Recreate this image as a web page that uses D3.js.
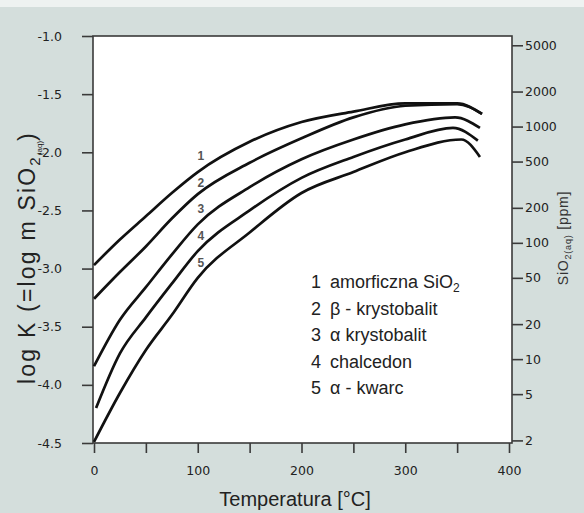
<!DOCTYPE html>
<html>
<head>
<meta charset="utf-8">
<script src="https://cdn.jsdelivr.net/npm/d3@7"></script>
<style>
    body { margin: 0; background: #d4dedc; }
    text { font-family: Arial, "Liberation Sans", sans-serif; }
    .tick text { font-family: "DejaVu Sans", sans-serif; font-size: 12.5px; fill: #222; }
    .tick line { stroke: #3a3a3a; stroke-width: 1.6; }
</style>
</head>
<body>
<script>
// temperatura [°C] i log K, krzywe 1..5
const tAmorf = [0, 25, 50, 75, 100, 150, 200, 250, 300, 350, 374];
const kAmorf = [-2.97, -2.75, -2.55, -2.35, -2.17, -1.91, -1.74, -1.65, -1.58, -1.58, -1.67];

const tBetaKryst = [0, 25, 50, 75, 100, 150, 200, 250, 300, 350, 374];
const kBetaKryst = [-3.26, -3.03, -2.81, -2.57, -2.36, -2.09, -1.88, -1.70, -1.60, -1.585, -1.67];

const tAlfaKryst = [0, 25, 50, 75, 100, 150, 200, 250, 300, 348, 372];
const kAlfaKryst = [-3.84, -3.44, -3.16, -2.88, -2.62, -2.30, -2.06, -1.89, -1.76, -1.70, -1.79];

const tChalcedon = [2, 25, 50, 75, 100, 150, 200, 250, 300, 346, 370];
const kChalcedon = [-4.20, -3.73, -3.42, -3.13, -2.85, -2.50, -2.22, -2.04, -1.89, -1.79, -1.90];

const tKwarc = [0, 25, 50, 75, 100, 150, 200, 250, 300, 354, 372];
const kKwarc = [-4.49, -4.07, -3.70, -3.40, -3.08, -2.69, -2.35, -2.17, -2.00, -1.89, -2.04];

const legendLabels = ['amorficzna SiO', 'β - krystobalit', 'α krystobalit', 'chalcedon', 'α - kwarc'];
// numery przy krzywych (T, log K)
const numLabelT = 103;
const numLabelK = [-2.03, -2.26, -2.49, -2.72, -2.95];

const xTicks = [0, 50, 100, 150, 200, 250, 300, 350, 400];
const yTicks = [-1.0, -1.5, -2.0, -2.5, -3.0, -3.5, -4.0, -4.5];
const ppmTicks = [5000, 2000, 1000, 500, 200, 100, 50, 20, 10, 5, 2];

const W = 584, H = 513;
const box = {left: 93, right: 512, top: 36, bottom: 443};

const svg = d3.select('body').append('svg')
    .attr('width', W).attr('height', H);

svg.append('rect').attr('width', W).attr('height', H).attr('fill', '#d4dedc');
svg.append('rect').attr('width', W).attr('height', 7).attr('fill', '#eef2f1');

const x = d3.scaleLinear().domain([0, 400]).range([94, 509]);
const y = d3.scaleLinear().domain([-4.5, -1]).range([box.bottom, box.top]);
// SiO2 ppm = m * 60.08 * 1000
const ppm = d3.scaleLog()
    .domain([60080 * Math.pow(10, -4.5), 60080 * Math.pow(10, -1)])
    .range([box.bottom, box.top]);

svg.append('rect')
    .attr('x', box.left).attr('y', box.top)
    .attr('width', box.right - box.left).attr('height', box.bottom - box.top)
    .attr('fill', '#fff').attr('stroke', '#3a3a3a').attr('stroke-width', 1.6);

const fmt = d => d3.format('.1f')(d).replace('−', '-');

const gx = svg.append('g')
    .attr('transform', `translate(0,${box.bottom})`)
    .call(d3.axisBottom(x).tickValues(xTicks).tickSize(10).tickPadding(13)
        .tickFormat(d => d % 100 === 0 ? d : ''));
gx.select('.domain').remove();

const gy = svg.append('g')
    .attr('transform', `translate(${box.left},0)`)
    .call(d3.axisLeft(y).tickValues(yTicks).tickSize(11).tickPadding(20).tickFormat(fmt));
gy.select('.domain').remove();

const gr = svg.append('g')
    .attr('transform', `translate(${box.right},0)`)
    .call(d3.axisRight(ppm).tickValues(ppmTicks).tickSize(11).tickPadding(2)
        .tickFormat(d3.format('d')));
gr.select('.domain').remove();

// krzywe
const series = [
    d3.zip(tAmorf, kAmorf),
    d3.zip(tBetaKryst, kBetaKryst),
    d3.zip(tAlfaKryst, kAlfaKryst),
    d3.zip(tChalcedon, kChalcedon),
    d3.zip(tKwarc, kKwarc),
];

const line = d3.line()
    .x(d => x(d[0]))
    .y(d => y(d[1]))
    .curve(d3.curveMonotoneX);

svg.selectAll('path.curve')
    .data(series)
    .enter()
    .append('path')
    .attr('class', 'curve')
    .attr('d', line)
    .attr('fill', 'none')
    .attr('stroke', '#111')
    .attr('stroke-width', 2.7)
    .attr('stroke-linejoin', 'round');

svg.selectAll('text.num')
    .data(numLabelK)
    .enter()
    .append('text')
    .attr('class', 'num')
    .attr('x', x(numLabelT))
    .attr('y', d => y(d))
    .attr('dy', '0.35em')
    .attr('text-anchor', 'middle')
    .attr('font-family', '"DejaVu Sans", sans-serif')
    .attr('font-size', 12)
    .attr('font-weight', 'bold')
    .attr('fill', '#555')
    .text((d, i) => i + 1);

// legenda
const lg = svg.selectAll('g.leg')
    .data(legendLabels)
    .enter()
    .append('g')
    .attr('class', 'leg')
    .attr('transform', (d, i) => `translate(311,${288 + i * 26.6})`);

lg.append('text').attr('font-size', 18).attr('fill', '#222').text((d, i) => i + 1);
const lt = lg.append('text').attr('x', 19).attr('font-size', 18).attr('fill', '#222');
lt.append('tspan').text(d => d);
lt.filter((d, i) => i === 0).append('tspan')
    .attr('font-size', 12).attr('dy', 4).text('2');

// opisy osi
const yl = svg.append('text')
    .attr('transform', `translate(35,${(box.top + box.bottom) / 2 + 18}) rotate(-90)`)
    .attr('text-anchor', 'middle')
    .attr('font-size', 23)
    .attr('letter-spacing', 2.2)
    .attr('fill', '#222');
yl.append('tspan').text('log K (=log m SiO');
yl.append('tspan').attr('font-size', 15).attr('dy', 5).text('2');
yl.append('tspan').attr('font-size', 8).attr('letter-spacing', 0).attr('dy', 2).text('(aq)');
yl.append('tspan').attr('dy', -7).text(')');

svg.append('text')
    .attr('x', 295).attr('y', 506)
    .attr('text-anchor', 'middle')
    .attr('font-size', 20)
    .attr('fill', '#222')
    .text('Temperatura [°C]');

const rl = svg.append('text')
    .attr('transform', `translate(568,238) rotate(-90)`)
    .attr('text-anchor', 'middle')
    .attr('font-family', '"DejaVu Sans", sans-serif')
    .attr('font-size', 14)
    .attr('letter-spacing', 0.8)
    .attr('fill', '#333');
rl.append('tspan').text('SiO');
rl.append('tspan').attr('font-size', 9).attr('dy', 3).text('2(aq)');
rl.append('tspan').attr('dy', -3).text(' [ppm]');
</script>
</body>
</html>
